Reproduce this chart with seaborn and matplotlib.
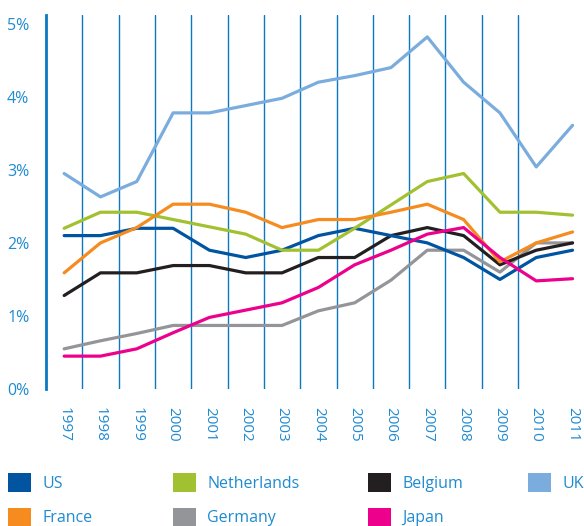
import matplotlib
matplotlib.use("Agg")
import matplotlib.pyplot as plt
import seaborn as sns
import pandas as pd
from matplotlib.patches import Patch
from matplotlib.ticker import FixedLocator, NullFormatter

years = list(range(1997, 2012))
us = [2.1, 2.1, 2.2, 2.2, 1.9, 1.8, 1.9, 2.1, 2.2, 2.1, 2.0, 1.8, 1.5, 1.8, 1.9]
netherlands = [2.2, 2.42, 2.42, 2.32, 2.22, 2.12, 1.9, 1.9, 2.2, 2.52, 2.84, 2.95, 2.42, 2.42, 2.38]
belgium = [1.28, 1.59, 1.59, 1.69, 1.69, 1.59, 1.59, 1.8, 1.8, 2.1, 2.21, 2.1, 1.7, 1.9, 2.0]
uk = [2.95, 2.63, 2.84, 3.78, 3.78, 3.88, 3.98, 4.2, 4.29, 4.4, 4.82, 4.2, 3.78, 3.04, 3.61]
france = [1.59, 2.0, 2.21, 2.53, 2.53, 2.42, 2.21, 2.32, 2.32, 2.42, 2.53, 2.32, 1.74, 2.0, 2.15]
germany = [0.55, 0.66, 0.76, 0.87, 0.87, 0.87, 0.87, 1.07, 1.18, 1.49, 1.9, 1.9, 1.6, 2.0, 2.0]
japan = [0.45, 0.45, 0.55, 0.77, 0.98, 1.08, 1.18, 1.39, 1.7, 1.9, 2.12, 2.21, 1.8, 1.48, 1.51]

countries = ["US", "Netherlands", "Belgium", "UK", "France", "Germany", "Japan"]
series = [us, netherlands, belgium, uk, france, germany, japan]
colors = ["#0054a0", "#a2c131", "#231f20", "#7aaddd", "#f68b1f", "#939598", "#ec008c"]
y_ticks = [0, 1, 2, 3, 4, 5]
y_labels = ["0%", "1%", "2%", "3%", "4%", "5%"]

rows = []
for c, vals in zip(countries, series):
    for yr, v in zip(years, vals):
        rows.append({"year": yr, "value": v, "country": c})
df = pd.DataFrame(rows)

sns.set_style("white")
plt.rcParams["font.family"] = ["Open Sans", "DejaVu Sans"]

text_blue = "#1f8bd0"
grid_blue = "#0a79c2"

fig = plt.figure(figsize=(5.84, 5.26), dpi=100)
ax = fig.add_axes([46 / 584, (526 - 389) / 526, (578 - 46) / 584, (389 - 15) / 526])

draw_order = ["UK", "Germany", "Belgium", "US", "Netherlands", "France", "Japan"]
palette = dict(zip(countries, colors))
sns.lineplot(data=df, x="year", y="value", hue="country", hue_order=draw_order,
             palette=palette, linewidth=2.3, legend=False, errorbar=None, ax=ax)

ax.set_xlim(1996.5, 2011.15)
ax.set_ylim(0, 5.12)
for s in ["top", "right", "bottom"]:
    ax.spines[s].set_visible(False)
ax.spines["left"].set_color(grid_blue)
ax.spines["left"].set_linewidth(2)

gx = [y - 0.5 for y in years[:-1]]
for g in gx[1:]:
    ax.axvline(g, color=grid_blue, lw=1, zorder=0)

ax.xaxis.set_major_locator(FixedLocator(gx))
ax.xaxis.set_major_formatter(NullFormatter())
ax.tick_params(axis="x", which="major", length=5, width=1, color=grid_blue, direction="out")
ax.set_xticks(years, minor=True)
ax.set_xticklabels([str(y) for y in years], minor=True, rotation=270,
                   color=text_blue, fontsize=11, va="top", ha="center")
ax.tick_params(axis="x", which="minor", length=0, pad=13)

ax.set_yticks(y_ticks)
ax.set_yticklabels(y_labels, color=text_blue, fontsize=11.5)
ax.tick_params(axis="y", length=0, pad=12)
ax.set_xlabel("")
ax.set_ylabel("")
ax.grid(False)

col_x = [8, 173, 368, 528]
columns = [["US", "France"], ["Netherlands", "Germany"], ["Belgium", "Japan"], ["UK"]]
for x0, col in zip(col_x, columns):
    handles = [Patch(facecolor=palette[c], edgecolor="none", label=c) for c in col]
    leg = fig.legend(handles=handles, loc="upper left",
                     bbox_to_anchor=(x0 / 584, (526 - 473) / 526),
                     frameon=False, fontsize=11.5, handlelength=1.44, handleheight=1.44,
                     handletextpad=0.7, labelspacing=0.98, borderpad=0, borderaxespad=0)
    for t in leg.get_texts():
        t.set_color(text_blue)

fig.savefig("out.png", dpi=100)
